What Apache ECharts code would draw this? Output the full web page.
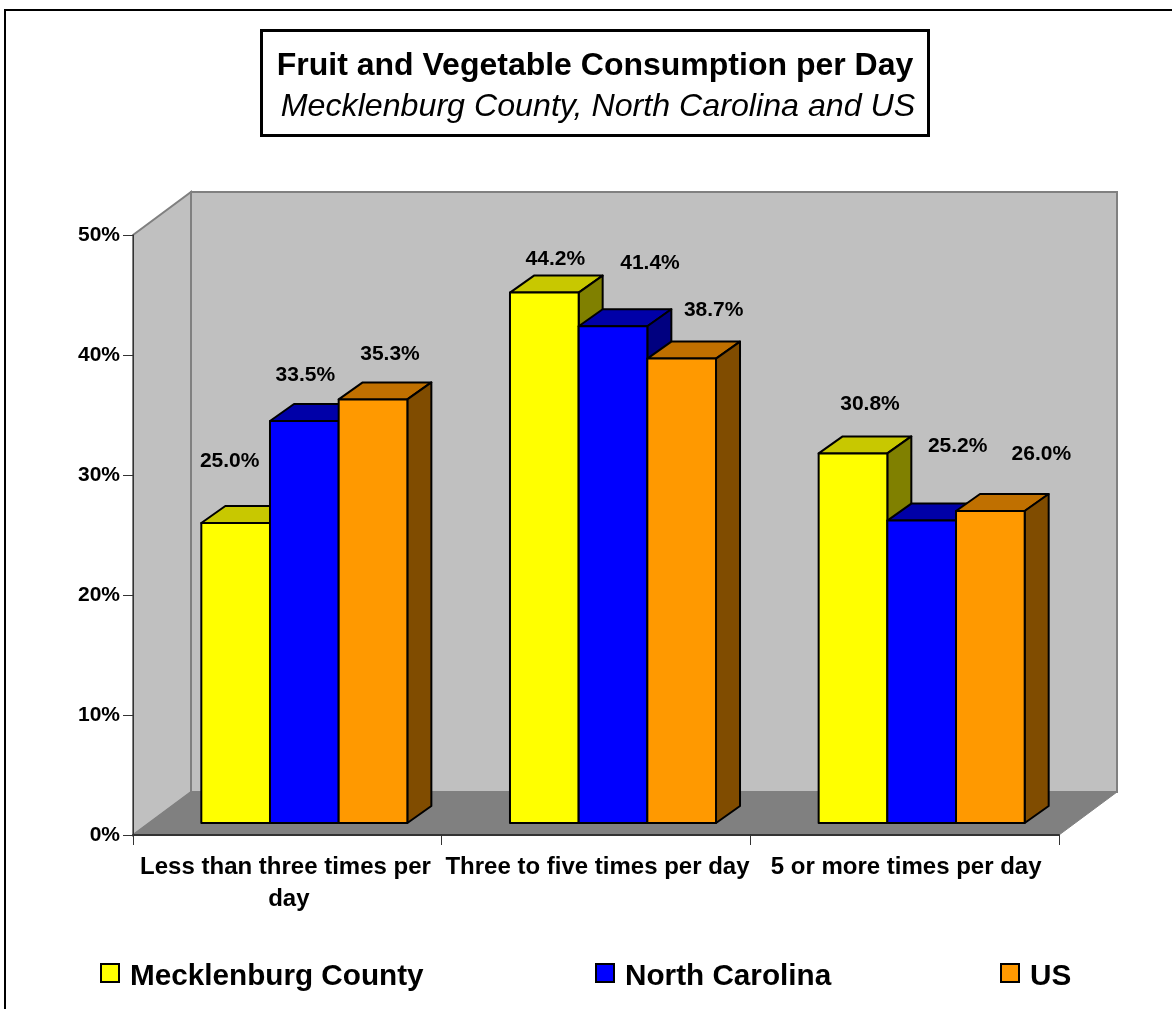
<!DOCTYPE html>
<html>
<head>
<meta charset="utf-8">
<title>Fruit and Vegetable Consumption per Day</title>
<script src="https://cdn.jsdelivr.net/npm/echarts@6/dist/echarts.min.js"></script>
<style>
  html, body { margin: 0; padding: 0; background: #fff; overflow: hidden; }
  #chart { width: 1172px; height: 1009px; }
</style>
</head>
<body>
<div id="chart"></div>
<script>
const categories = ['Less than three times per day', 'Three to five times per day', '5 or more times per day'];
const mecklenburg = [25.0, 44.2, 30.8];
const northCarolina = [33.5, 41.4, 25.2];
const us = [35.3, 38.7, 26.0];

// where each printed label sits relative to the top of its bar: [right, up]
const labelOffsets = [
  [[-6, 62], [11, 33], [17, 49]],
  [[1, 46], [37, 63], [36, 74]],
  [[17, 45], [32, 48], [51, 57]]
];

const FONT = '"Liberation Sans", Arial, sans-serif';
const BAR_RATIO = 0.2225;
const SINK = [17, 12];    // bars stand this far back on the floor
const DEPTH = [24, 17];   // depth of a bar
const ROOM = [58, 43];    // depth of the walls and floor

const seriesStyles = [
  { name: 'Mecklenburg County', values: mecklenburg, front: '#FFFF00', top: '#C8C800', side: '#808000' },
  { name: 'North Carolina', values: northCarolina, front: '#0000FF', top: '#0000A8', side: '#000080' },
  { name: 'US', values: us, front: '#FF9900', top: '#C07000', side: '#804C00' }
];

const chart = echarts.init(document.getElementById('chart'));

const renderRoom = (params) => {
  const { x, y, width, height } = params.coordSys;
  const [dx, dy] = ROOM;
  const wall = { fill: '#C0C0C0', stroke: '#808080', lineWidth: 2 };
  return {
    type: 'group',
    children: [
      { type: 'rect', shape: { x: x + dx, y: y - dy, width, height }, style: wall },
      { type: 'polygon', shape: { points: [[x, y], [x + dx, y - dy], [x + dx, y + height - dy], [x, y + height]] }, style: wall },
      {
        type: 'polygon',
        shape: { points: [[x, y + height], [x + dx, y + height - dy], [x + width + dx, y + height - dy], [x + width, y + height]] },
        style: { fill: '#808080', stroke: '#808080', lineWidth: 1 }
      }
    ]
  };
};

const renderBar = (seriesIndex) => (params, api) => {
  const cat = api.value(0);
  const value = api.value(1);
  const style = seriesStyles[seriesIndex];
  const top = api.coord([cat, value]);
  const base = api.coord([cat, 0]);
  const w = api.size([1, 0])[0] * BAR_RATIO;
  const x0 = top[0] + SINK[0] + (seriesIndex - 1.5) * w;
  const x1 = x0 + w;
  const y0 = top[1] - SINK[1];
  const y1 = base[1] - SINK[1];
  const [dx, dy] = DEPTH;
  const line = { stroke: '#000', lineWidth: 2, lineJoin: 'round' };
  const offset = labelOffsets[seriesIndex][cat];
  return {
    type: 'group',
    children: [
      { type: 'polygon', shape: { points: [[x0, y0], [x0 + dx, y0 - dy], [x1 + dx, y0 - dy], [x1, y0]] }, style: { fill: style.top, ...line } },
      { type: 'polygon', shape: { points: [[x1, y0], [x1 + dx, y0 - dy], [x1 + dx, y1 - dy], [x1, y1]] }, style: { fill: style.side, ...line } },
      { type: 'rect', shape: { x: x0, y: y0, width: w, height: y1 - y0 }, style: { fill: style.front, ...line } },
      {
        type: 'text',
        style: {
          text: value.toFixed(1) + '%',
          x: (x0 + x1) / 2 + offset[0],
          y: y0 - offset[1],
          fill: '#000',
          font: 'bold 21px ' + FONT,
          textAlign: 'center',
          textVerticalAlign: 'middle'
        }
      }
    ]
  };
};

const legendAt = (name, left) => ({
  data: [name],
  left,
  top: 957,
  icon: 'rect',
  itemWidth: 18,
  itemHeight: 18,
  selectedMode: false,
  itemStyle: { borderColor: '#000', borderWidth: 2 },
  formatter: '{a|{name}}',
  textStyle: {
    rich: {
      a: { color: '#000', fontFamily: FONT, fontWeight: 'bold', fontSize: 29.7, padding: [8, 0, 0, 6] }
    }
  }
});

const option = {
  backgroundColor: '#fff',
  animation: false,
  title: [
    {
      text: 'Fruit and Vegetable Consumption per Day',
      left: 590,
      top: 45,
      textAlign: 'center',
      textStyle: { color: '#000', fontFamily: FONT, fontWeight: 'bold', fontSize: 32 }
    },
    {
      text: 'Mecklenburg County, North Carolina and US',
      left: 593,
      top: 86,
      textAlign: 'center',
      textStyle: { color: '#000', fontFamily: FONT, fontStyle: 'italic', fontWeight: 'normal', fontSize: 32.2 }
    }
  ],
  graphic: [
    { type: 'rect', z: -10, shape: { x: 5, y: 10, width: 1200, height: 1040 }, style: { fill: '#fff', stroke: '#000', lineWidth: 2 } },
    { type: 'rect', z: 1, shape: { x: 261.5, y: 30.5, width: 667, height: 105 }, style: { fill: '#fff', stroke: '#000', lineWidth: 3 } }
  ],
  legend: [
    legendAt('Mecklenburg County', 95),
    legendAt('North Carolina', 590),
    legendAt('US', 995)
  ],
  grid: { left: 133, right: 113, top: 235, bottom: 174 },
  xAxis: {
    type: 'category',
    data: categories,
    axisLine: { lineStyle: { color: '#333', width: 2 } },
    axisTick: { show: true, length: 10, lineStyle: { color: '#333', width: 1 } },
    axisLabel: {
      interval: 0,
      color: '#000',
      fontFamily: FONT,
      fontWeight: 'bold',
      fontSize: 24,
      lineHeight: 32,
      margin: 16,
      width: 308,
      overflow: 'break',
      padding: [0, 0, 0, 3]
    }
  },
  yAxis: {
    type: 'value',
    min: 0,
    max: 50,
    interval: 10,
    axisLine: { show: true, lineStyle: { color: '#333', width: 1 } },
    axisTick: { show: true, length: 10, lineStyle: { color: '#333', width: 1 } },
    splitLine: { show: false },
    axisLabel: {
      formatter: '{value}%',
      color: '#000',
      fontFamily: FONT,
      fontWeight: 'bold',
      fontSize: 21,
      margin: 13
    }
  },
  series: [
    {
      type: 'custom',
      name: 'room',
      z: -1,
      silent: true,
      clip: false,
      data: [[0, 0]],
      renderItem: renderRoom
    },
    ...seriesStyles.map((style, i) => ({
      type: 'custom',
      name: style.name,
      z: 2 + i,
      clip: false,
      itemStyle: { color: style.front },
      encode: { x: 0, y: 1 },
      data: style.values.map((value, index) => [index, value]),
      renderItem: renderBar(i)
    }))
  ]
};

chart.setOption(option);
</script>
</body>
</html>
